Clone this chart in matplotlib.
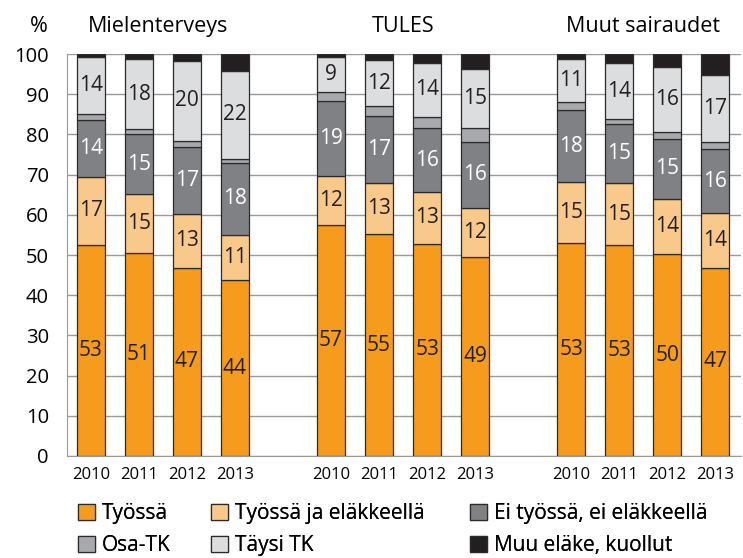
import matplotlib.pyplot as plt
import numpy as np

plt.rcParams['font.family'] = ['Open Sans', 'DejaVu Sans']

groups = ["Mielenterveys", "TULES", "Muut sairaudet"]
years = ["2010", "2011", "2012", "2013"]

categories = ["Työssä", "Työssä ja eläkkeellä", "Ei työssä, ei eläkkeellä",
              "Osa-TK", "Täysi TK", "Muu eläke, kuollut"]

# values per bar, order: Mielenterveys 2010-2013, TULES 2010-2013, Muut 2010-2013
tyossa =      [52.6, 50.5, 46.8, 43.7, 57.4, 55.2, 52.8, 49.4, 53.0, 52.5, 50.2, 46.8]
tyossa_elak = [16.8, 14.6, 13.4, 11.4, 12.3, 12.6, 12.9, 12.4, 15.2, 15.3, 13.8, 13.6]
ei_tyossa =   [14.3, 14.9, 16.8, 17.8, 18.6, 16.8, 15.8, 16.3, 17.8, 14.8, 14.9, 16.0]
osa_tk =      [1.4, 1.3, 1.4, 1.1, 2.3, 2.5, 2.8, 3.4, 2.1, 1.2, 1.7, 1.7]
taysi_tk =    [14.2, 17.5, 19.9, 21.8, 8.7, 11.4, 13.6, 14.9, 10.8, 14.0, 16.2, 16.8]
muu =         [0.7, 1.2, 1.7, 4.2, 0.7, 1.5, 2.1, 3.6, 1.1, 2.2, 3.2, 5.1]

# printed values on the segments
labels_tyossa = [53, 51, 47, 44, 57, 55, 53, 49, 53, 53, 50, 47]
labels_tja = [17, 15, 13, 11, 12, 13, 13, 12, 15, 15, 14, 14]
labels_ei = [14, 15, 17, 18, 19, 17, 16, 16, 18, 15, 15, 16]
labels_taysi = [14, 18, 20, 22, 9, 12, 14, 15, 11, 14, 16, 17]

colors = ["#F59C1E", "#F8C98B", "#808184", "#A7A9AC", "#DCDDDF", "#231F20"]

x = np.array([0, 1, 2, 3, 5, 6, 7, 8, 10, 11, 12, 13])
series = [tyossa, tyossa_elak, ei_tyossa, osa_tk, taysi_tk, muu]
label_map = {0: labels_tyossa, 1: labels_tja, 2: labels_ei, 4: labels_taysi}

fig = plt.figure(figsize=(7.43, 5.58), dpi=100)
ax = fig.add_axes([0.090, 0.183, 0.907, 0.720])

bottom = np.zeros(len(x))
handles = []
for i, (vals, col) in enumerate(zip(series, colors)):
    vals = np.array(vals)
    h = ax.bar(x, vals, width=0.59, bottom=bottom, color=col, edgecolor="#2b2b2b",
               linewidth=0.9, label=categories[i], zorder=3)
    handles.append(h)
    if i in label_map:
        txtcol = "white" if i == 2 else "#231F20"
        for xi, b, v, lab in zip(x, bottom, vals, label_map[i]):
            ax.text(xi, b + v / 2, str(lab), ha="center", va="center",
                    fontsize=15, color=txtcol, zorder=4)
    bottom += vals

ax.set_ylim(0, 100)
ax.set_xlim(-0.5, 13.53)
ax.set_yticks(range(0, 101, 10))
ax.tick_params(axis="y", length=0, labelsize=14.5, pad=13)
ax.set_xticks(x)
ax.set_xticklabels(years * 3)
ax.tick_params(axis="x", length=0, labelsize=12, pad=8)
ax.yaxis.grid(True, color="#999999", linewidth=1.0, zorder=0)
for s in ["top", "right"]:
    ax.spines[s].set_visible(False)
ax.spines["left"].set_color("#999999")
ax.spines["bottom"].set_color("#999999")

fig.text(48 / 743, 1 - 32 / 558, "%", fontsize=15.5, ha="right", va="baseline")
for gx, g in zip([1.4, 6.5, 11.5], groups):
    ax.text(gx, 105.5, g, fontsize=15.5, ha="center", va="baseline")

# legend in three columns placed separately
col_x = [78, 211, 470]
col_items = [[0, 3], [1, 4], [2, 5]]
for cx, items in zip(col_x, col_items):
    leg = fig.legend([handles[k] for k in items], [categories[k] for k in items],
                     loc="upper left", bbox_to_anchor=(cx / 743, 1 - 503 / 558),
                     frameon=False, fontsize=15, handlelength=0.8, handleheight=0.8,
                     handletextpad=0.35, labelspacing=0.55, borderpad=0,
                     borderaxespad=0)
    fig.add_artist(leg)

fig.savefig("out.png", dpi=100)
